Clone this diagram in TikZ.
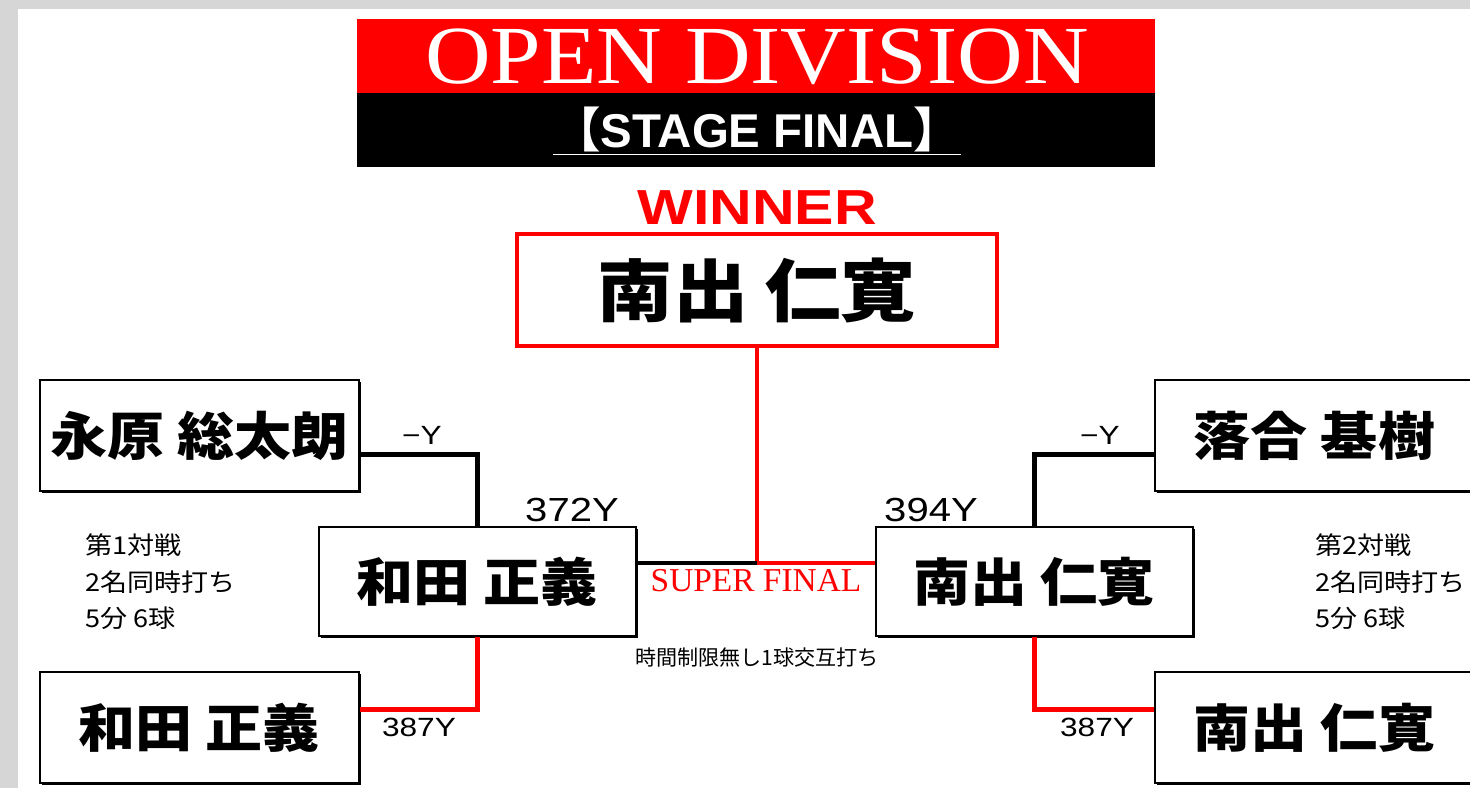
\documentclass[tikz,border=0pt]{standalone}
\usepackage{fontspec}
\setmainfont{Liberation Serif}
\newfontfamily\titlefont{Liberation Serif}[FakeStretch=1.1]
\newfontfamily\cjk{Noto Sans CJK JP}
\newfontfamily\cjkwide{Noto Sans CJK JP}[FakeStretch=1.1]
\newfontfamily\arialfont{Liberation Sans}
\newfontfamily\numfont{Liberation Sans}[FakeStretch=1.2]
\usetikzlibrary{shadows}
\definecolor{bggray}{HTML}{D6D6D6}
\definecolor{pred}{HTML}{FF0000}
\tikzset{
  namebox/.style={draw, line width=1.4pt, fill=white, inner sep=0pt,
    minimum width=6.38cm, minimum height=2.22cm,
    font=\cjkwide\bfseries\fontsize{29.5}{31}\selectfont,
    drop shadow={shadow xshift=1pt, shadow yshift=-1pt, fill=black, opacity=1}},
  semibox/.style={namebox, minimum width=6.34cm, minimum height=2.18cm},
  winbox/.style={namebox, draw=pred, line width=2pt,
    minimum width=9.6cm, minimum height=2.24cm,
    font=\cjkwide\bfseries\fontsize{39}{41}\selectfont,
    drop shadow={shadow xshift=1pt, shadow yshift=-1pt, fill=pred, opacity=1}},
  blackline/.style={line width=2.4pt},
  redline/.style={line width=2.4pt, pred},
  score/.style={font=\numfont\fontsize{19}{20}\selectfont, inner sep=0pt},
  note/.style={font=\cjkwide\fontsize{14}{20.7}\selectfont, align=left, anchor=west, inner sep=0pt}
}
\begin{document}
\begin{tikzpicture}[x=0.02cm, y=-0.02cm]
  % background
  \fill[bggray] (0,0) rectangle (1470,788);
  \fill[white] (18,9) rectangle (1470,788);
  \useasboundingbox (0,0) rectangle (1470,788);
  % title
  \fill[pred] (357,19) rectangle (1155,93);
  \fill[black] (357,93) rectangle (1155,167);
  \node[white, font=\titlefont\fontsize{47}{48}\selectfont, inner sep=0pt] (title) at (757,57) {OPEN DIVISION};
  \node[white, font=\arialfont\bfseries\fontsize{27}{28}\selectfont, inner sep=0pt] (stage) at (757,131)
    {\underline{{\cjk 【}STAGE FINAL{\cjk 】}}};
  % winner
  \node[pred, font=\numfont\bfseries\fontsize{28}{29}\selectfont, inner sep=0pt] (winlabel) at (757,208) {WINNER};
  \node[winbox] (winner) at (757,290) {南出 仁寛};
  % semifinal
  \node[semibox] (semiL) at (477.5,581.5) {和田 正義};
  \node[semibox] (semiR) at (1034.5,581.5) {南出 仁寛};
  % first round
  \node[namebox] (sideLT) at (199.5,435.5) {永原 総太朗};
  \node[namebox] (sideLB) at (199.5,727.5) {和田 正義};
  \node[namebox] (sideRT) at (1314.5,435.5) {落合 基樹};
  \node[namebox] (sideRB) at (1314.5,727.5) {南出 仁寛};
  % super final
  \coordinate (sf) at (757,563);
  \draw[redline] (winner.south) -- (sf);
  \draw[blackline] (semiL.east |- sf) -- (sf);
  \draw[redline] (sf) -- (semiR.west |- sf);
  \draw[blackline] (sideLT.east) ++(0,19) -| (semiL.north);
  \draw[redline] (sideLB.east) ++(0,-18) -| (semiL.south);
  \draw[blackline] (sideRT.west) ++(0,19) -| (semiR.north);
  \draw[redline] (sideRB.west) ++(0,-18) -| (semiR.south);
  \node[pred, font=\fontsize{19}{20}\selectfont, inner sep=0pt] (sflabel) at (756,581) {SUPER FINAL};
  \node[font=\cjk\fontsize{12}{12}\selectfont, inner sep=0pt] (sfrule) at (757,658) {時間制限無し1球交互打ち};
  % scores
  \node[score] (scL) at (572,510) {372Y};
  \node[score] (scR) at (931,510) {394Y};
  \node[score, font=\numfont\fontsize{15}{16}\selectfont] (scLT) at (422,435) {−Y};
  \node[score, font=\numfont\fontsize{15}{16}\selectfont] (scRT) at (1100,435) {−Y};
  \node[score, font=\numfont\fontsize{15}{16}\selectfont] (scLB) at (419,727) {387Y};
  \node[score, font=\numfont\fontsize{15}{16}\selectfont] (scRB) at (1097,727) {387Y};
  % notes
  \node[note] (noteL) at (85,582) {第1対戦\\2名同時打ち\\5分 6球};
  \node[note] (noteR) at (1315,582) {第2対戦\\2名同時打ち\\5分 6球};
\end{tikzpicture}
\end{document}
